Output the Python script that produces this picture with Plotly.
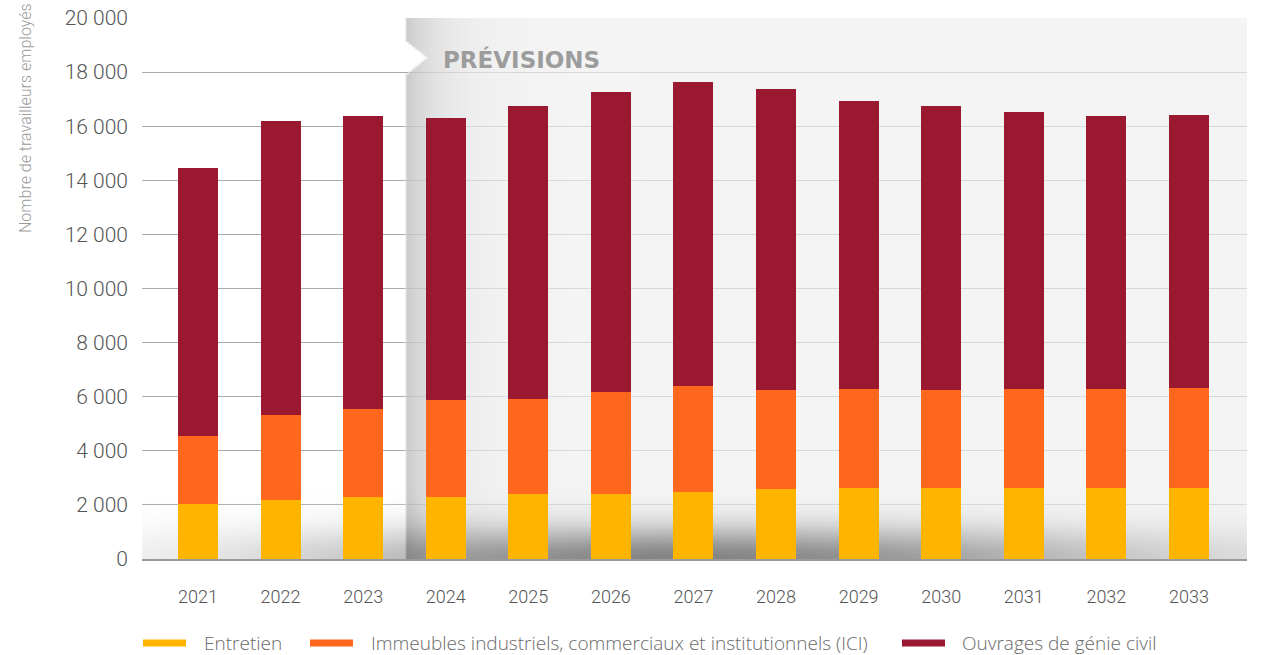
import numpy as np
import plotly.graph_objects as go

# Employment by construction segment, 2021-2033 (2024 onward = forecast)
years = ["2021", "2022", "2023", "2024", "2025", "2026", "2027",
         "2028", "2029", "2030", "2031", "2032", "2033"]
entretien = [2050, 2170, 2280, 2310, 2390, 2420, 2460, 2570, 2610, 2640, 2640, 2640, 2640]
ici = [2480, 3170, 3250, 3550, 3510, 3750, 3920, 3660, 3690, 3590, 3630, 3660, 3700]
genie_civil = [9940, 10870, 10830, 10460, 10830, 11080, 11270, 11160, 10650, 10500, 10270, 10060, 10060]

series_names = ["Entretien",
                "Immeubles industriels, commerciaux et institutionnels (ICI)",
                "Ouvrages de génie civil"]
series_colors = ["#FFB500", "#FF671F", "#9B1930"]

y_ticks = list(range(0, 20001, 2000))

X_RANGE = [-0.678, 12.703]
Y_RANGE = [0, 20000]
FORECAST_START = 2.5          # boundary between 2023 and 2024

W, H = 1261, 655
M_L, M_R, M_T, M_B = 142, 14, 18, 96
plot_w = W - M_L - M_R
plot_h = H - M_T - M_B
px_per_cat = plot_w / (X_RANGE[1] - X_RANGE[0])
px_per_unit = plot_h / (Y_RANGE[1] - Y_RANGE[0])

# ---- background shading: forecast panel, its left-edge gradient and floor shadow
gx = np.linspace(X_RANGE[0], X_RANGE[1], 360)
gy = np.linspace(Y_RANGE[0], Y_RANGE[1], 221)
GX, GY = np.meshgrid(gx, gy)
dx_px = (GX - FORECAST_START) * px_per_cat          # px right of the forecast edge
h_px = GY * px_per_unit                              # px above the baseline

# arrow notch cut into the forecast panel beside the label
notch_mid = 18550 * px_per_unit
notch = 21 * np.clip(1 - np.abs(h_px - notch_mid) / 19, 0, None)
in_forecast = dx_px > notch

light = np.where(in_forecast, 244.0, 255.0)
light -= np.where(in_forecast, 44 * np.exp(-np.clip(dx_px, 0, None) / 35), 0)

abs_x = M_L + (GX - X_RANGE[0]) * px_per_cat
sdx = abs_x - 680
sx = np.where(sdx < 0, 390, 460)
light -= 112 * np.exp(-(sdx / sx) ** 2 - (h_px / 32) ** 2)
light = np.clip(light, 130, 255).round(1)

# colour scale: target lightness -> translucent grey laid over the gridlines
Z_MIN, Z_MAX = 130, 255
stops = []
for t in [130, 145, 160, 175, 190, 205, 220, 232, 240, 244, 248, 252, 255]:
    if t >= 244:
        a = (255 - t) / 16
        c = 239
    else:
        a = 0.7 + 0.3 * (244 - t) / (244 - 130)
        c = (t - (1 - a) * 255) / a
    c = int(round(c))
    stops.append([(t - Z_MIN) / (Z_MAX - Z_MIN), f"rgba({c},{c},{c},{a:.3f})"])

fig = go.Figure()

fig.add_trace(go.Heatmap(
    x=gx, y=gy, z=light, zmin=Z_MIN, zmax=Z_MAX, zsmooth="best",
    colorscale=stops, showscale=False, hoverinfo="skip",
))

x_pos = list(range(len(years)))
for name, vals, col in zip(series_names, [entretien, ici, genie_civil], series_colors):
    fig.add_trace(go.Bar(
        x=x_pos, y=vals, name=name, width=0.484,
        marker=dict(color=col, line=dict(width=0)),
        showlegend=False,
        hovertemplate="%{y:,}<extra>" + name + "</extra>",
    ))

# legend row under the axis: swatch line + label for each series
LEGEND_Y = -84                       # px below the baseline (paper y = 0)
swatch_x = [1, 168, 760]             # px from the plot's left edge
label_x = [60, 227, 818]
for name, col, sx0, lx in zip(series_names, series_colors, swatch_x, label_x):
    fig.add_shape(
        type="line", xref="paper", yref="paper",
        xsizemode="pixel", ysizemode="pixel", xanchor=0, yanchor=0,
        x0=sx0, x1=sx0 + 43, y0=LEGEND_Y, y1=LEGEND_Y,
        line=dict(color=col, width=7),
    )
    fig.add_annotation(
        x=lx / plot_w, y=LEGEND_Y / plot_h, xref="paper", yref="paper",
        text=name, showarrow=False, xanchor="left", yanchor="middle",
        font=dict(family="Open Sans", size=19, color="#6a6a6a", weight=300),
    )

fig.add_annotation(
    x=2.94, y=18450, xref="x", yref="y", text="<b>PRÉVISIONS</b>",
    showarrow=False, xanchor="left", yanchor="middle",
    font=dict(family="DejaVu Sans", size=23, color="#9c9c9c"),
)

fig.add_annotation(
    x=(25 - M_L) / plot_w, y=(H - M_B - 118) / plot_h, xref="paper", yref="paper",
    text="Nombre de travailleurs employés", textangle=-90, showarrow=False,
    xanchor="center", yanchor="middle",
    font=dict(family="Roboto", size=16, color="#9a9a9a", weight=300),
)

fig.update_layout(
    width=W, height=H,
    margin=dict(l=M_L, r=M_R, t=M_T, b=M_B, autoexpand=False),
    paper_bgcolor="white", plot_bgcolor="white",
    barmode="stack", separators=". ",
    showlegend=False,
    font=dict(family="Roboto", color="#555555"),
    xaxis=dict(
        range=X_RANGE, tickvals=x_pos, ticktext=years, automargin=False,
        showgrid=False, zeroline=False, showline=True,
        linecolor="#9a9a9a", linewidth=2, ticks="", ticklabelstandoff=20,
        tickfont=dict(family="Roboto", size=18, color="#555555", weight=300),
    ),
    yaxis=dict(
        range=Y_RANGE, tickvals=y_ticks, tickformat=",d", automargin=False,
        showgrid=True, gridcolor="#aaaaaa", gridwidth=1,
        zeroline=False, showline=False, ticks="", ticklabelstandoff=13,
        tickfont=dict(family="Roboto", size=21, color="#555555", weight=300),
    ),
)

fig.write_html("out.html")
